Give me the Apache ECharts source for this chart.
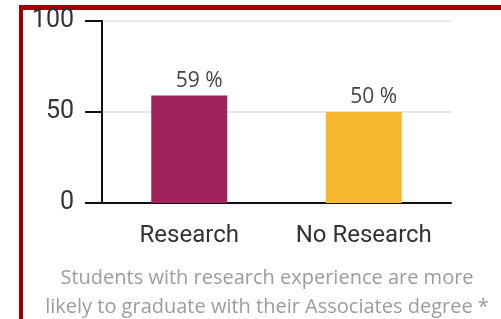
<!DOCTYPE html>
<html>
<head>
<meta charset="utf-8">
<script src="https://cdn.jsdelivr.net/npm/echarts@6/dist/echarts.min.js"></script>
<style>
  html, body { margin: 0; padding: 0; background: #fff; }
  #chart { width: 501px; height: 319px; }
</style>
</head>
<body>
<div id="chart"></div>
<script>
var categories = ['Research', 'No Research'];
var values = [59, 50];
var barColors = ['#a0235e', '#f5b82e'];
var yTicks = [0, 50, 100];
var caption = 'Students with research experience are more\nlikely to graduate with their Associates degree *';

var chart = echarts.init(document.getElementById('chart'));
var option;

option = {
  animation: false,
  grid: { left: 102, right: 50, top: 21, bottom: 116 },
  xAxis: {
    type: 'category',
    data: categories,
    axisLine: { lineStyle: { color: '#111', width: 2 } },
    axisTick: { alignWithLabel: true, length: 19, lineStyle: { color: '#111', width: 2 } },
    axisLabel: {
      interval: 0,
      margin: 21,
      fontFamily: 'Roboto',
      fontSize: 24,
      color: '#333'
    }
  },
  yAxis: {
    type: 'value',
    min: yTicks[0],
    max: yTicks[yTicks.length - 1],
    interval: yTicks[1] - yTicks[0],
    axisLine: { show: true, lineStyle: { color: '#111', width: 2 } },
    axisTick: { show: true, length: 17, lineStyle: { color: '#111', width: 2 } },
    axisLabel: {
      margin: 28,
      fontFamily: 'Roboto',
      fontSize: 25,
      color: '#333'
    },
    splitLine: { lineStyle: { color: '#e8e8e8', width: 2 } }
  },
  series: [
    {
      type: 'bar',
      barWidth: 76,
      data: values.map(function (v, i) {
        return { value: v, itemStyle: { color: barColors[i] } };
      }),
      label: {
        show: true,
        position: 'top',
        distance: 4,
        offset: [10, 0],
        formatter: '{c} %',
        fontFamily: 'Open Sans',
        fontSize: 21,
        color: '#444'
      }
    }
  ],
  graphic: [
    { type: 'rect', shape: { x: 19, y: 5, width: 4, height: 314 }, style: { fill: '#9e0000' } },
    { type: 'rect', shape: { x: 19, y: 5, width: 482, height: 5 }, style: { fill: '#9e0000' } },
    {
      type: 'text',
      x: 267,
      y: 293,
      style: {
        text: caption,
        textAlign: 'center',
        textVerticalAlign: 'middle',
        fontFamily: 'Open Sans',
        fontSize: 20,
        lineHeight: 29,
        fill: '#9c9c9c'
      }
    }
  ]
};

option && chart.setOption(option);
</script>
</body>
</html>
